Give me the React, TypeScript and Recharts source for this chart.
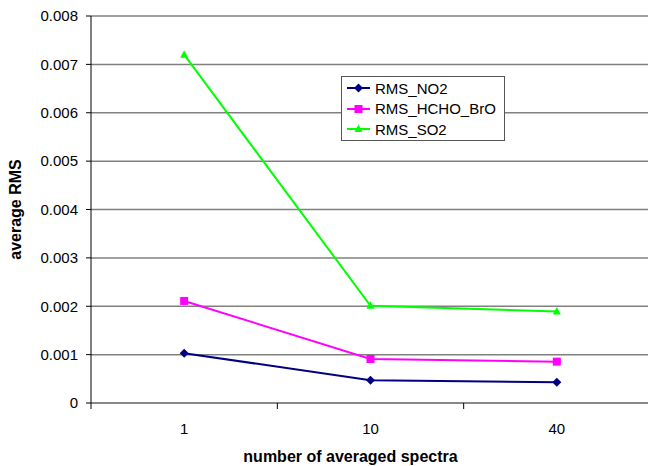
import { LineChart, Line, XAxis, YAxis, CartesianGrid, Label } from 'recharts';

const spectra = ['1', '10', '40'];
const rmsNO2 = [0.00103, 0.00047, 0.00043];
const rmsHCHO = [0.00211, 0.00091, 0.000855];
const rmsSO2 = [0.0072, 0.00201, 0.00189];
const yTicks = [0, 0.001, 0.002, 0.003, 0.004, 0.005, 0.006, 0.007, 0.008];

const data = spectra.map((n, i) => ({
  n,
  RMS_NO2: rmsNO2[i],
  RMS_HCHO_BrO: rmsHCHO[i],
  RMS_SO2: rmsSO2[i],
}));

const FONT = 'Liberation Sans, Arial, sans-serif';

const series = [
  { key: 'RMS_NO2', color: '#000080', shape: 'diamond' },
  { key: 'RMS_HCHO_BrO', color: '#ff00ff', shape: 'square' },
  { key: 'RMS_SO2', color: '#00ff00', shape: 'triangle' },
];

function Marker({ cx, cy, shape, color }: any) {
  if (cx == null || cy == null) return null;
  if (shape === 'diamond') {
    return <path d={`M${cx},${cy - 4.5}L${cx + 4.5},${cy}L${cx},${cy + 4.5}L${cx - 4.5},${cy}Z`} fill={color} />;
  }
  if (shape === 'square') {
    return <rect x={cx - 4} y={cy - 4} width={8} height={8} fill={color} />;
  }
  return <path d={`M${cx},${cy - 4.5}L${cx + 4},${cy + 3}L${cx - 4},${cy + 3}Z`} fill={color} />;
}

function XTick({ x, y, payload }: any) {
  const off = payload.offset || 0;
  return (
    <g>
      <line x1={x - off} y1={y} x2={x - off} y2={y + 6} stroke="#000" strokeWidth={1} />
      <text x={x} y={y + 31} textAnchor="middle" fontSize={15} fontFamily={FONT} fill="#000">
        {payload.value}
      </text>
    </g>
  );
}

function LegendBox() {
  return (
    <div
      style={{
        position: 'absolute',
        left: 341,
        top: 76,
        width: 157,
        height: 62,
        border: '1px solid #555',
        background: '#fff',
        padding: '1px 0 0 5px',
        fontFamily: FONT,
        fontSize: 15,
        boxSizing: 'content-box',
      }}
    >
      {series.map((s) => (
        <div key={s.key} style={{ display: 'flex', alignItems: 'center', height: 20.5, whiteSpace: 'nowrap' }}>
          <svg width={24} height={12} style={{ marginRight: 4 }}>
            <line x1={0} y1={6} x2={23} y2={6} stroke={s.color} strokeWidth={2} />
            <Marker cx={11.5} cy={6} shape={s.shape} color={s.color} />
          </svg>
          <span>{s.key}</span>
        </div>
      ))}
    </div>
  );
}

export default function App() {
  return (
    <div style={{ position: 'absolute', left: 0, top: 0, width: 648, height: 466, background: '#fff', overflow: 'hidden' }}>
      <LineChart width={650} height={466} data={data} margin={{ top: 16, right: 0, bottom: 0, left: 0 }}>
        <CartesianGrid vertical={false} stroke="#808080" strokeWidth={1.5} />
        <XAxis
          dataKey="n"
          scale="band"
          height={63}
          axisLine={{ stroke: '#808080', strokeWidth: 1.5 }}
          tickLine={false}
          tickSize={0}
          tickMargin={0}
          tick={<XTick />}
          interval={0}
        >
          <Label
            value="number of averaged spectra"
            position="insideBottom"
            offset={4}
            dx={-20}
            style={{ fontFamily: FONT, fontSize: 16, fontWeight: 'bold', fill: '#000' }}
          />
        </XAxis>
        <YAxis
          width={91}
          domain={[0, 0.008]}
          ticks={yTicks}
          interval={0}
          axisLine={{ stroke: '#000' }}
          tickLine={{ stroke: '#000' }}
          tickSize={5}
          tickMargin={8}
          tick={{ fontFamily: FONT, fontSize: 15, fill: '#000' }}
        >
          <Label
            value="average RMS"
            angle={-90}
            position="insideLeft"
            offset={15}
            style={{ textAnchor: 'middle', fontFamily: FONT, fontSize: 16, fontWeight: 'bold', fill: '#000' }}
          />
        </YAxis>
        {series.map((s) => (
          <Line
            key={s.key}
            dataKey={s.key}
            stroke={s.color}
            strokeWidth={2}
            isAnimationActive={false}
            dot={(p: any) => <Marker key={`${s.key}-${p.index}`} cx={p.cx} cy={p.cy} shape={s.shape} color={s.color} />}
            activeDot={false}
          />
        ))}
      </LineChart>
      <LegendBox />
    </div>
  );
}
